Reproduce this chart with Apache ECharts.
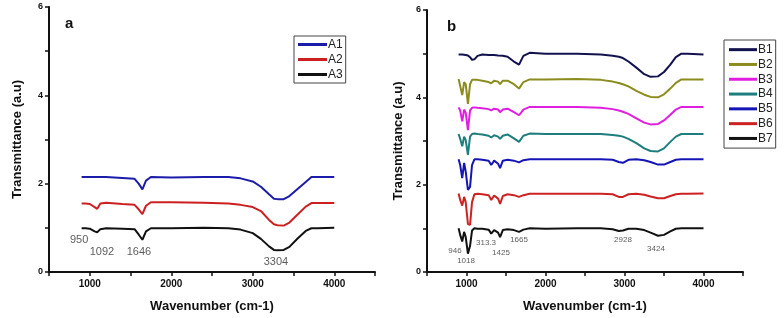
<!DOCTYPE html>
<html>
<head>
<meta charset="utf-8">
<script src="https://cdn.jsdelivr.net/npm/echarts@6/dist/echarts.min.js"></script>
<style>
  html, body { margin: 0; padding: 0; background: #fff; }
  #chart { width: 784px; height: 318px; }
</style>
</head>
<body>
<div id="chart"></div>
<script>
// panel a: wavenumbers and transmittance
const wnA = [900, 950, 1000, 1060, 1092, 1130, 1200, 1400, 1550, 1600, 1646, 1690, 1750, 2000, 2400, 2700, 2850, 3000, 3100, 3200, 3260, 3304, 3380, 3450, 3550, 3650, 3720, 3800, 4000];
const A1 = [2.15, 2.15, 2.15, 2.15, 2.15, 2.15, 2.15, 2.13, 2.11, 2.0, 1.87, 2.07, 2.15, 2.14, 2.15, 2.15, 2.12, 2.05, 1.93, 1.76, 1.66, 1.65, 1.65, 1.72, 1.88, 2.04, 2.15, 2.15, 2.15];
const A2 = [1.55, 1.55, 1.54, 1.47, 1.43, 1.55, 1.57, 1.54, 1.52, 1.42, 1.31, 1.5, 1.58, 1.58, 1.57, 1.55, 1.52, 1.47, 1.38, 1.18, 1.08, 1.06, 1.05, 1.12, 1.3, 1.48, 1.56, 1.56, 1.56];
const A3 = [0.99, 0.99, 0.98, 0.92, 0.9, 0.97, 0.99, 0.98, 0.97, 0.85, 0.73, 0.92, 0.99, 0.99, 1.0, 0.99, 0.96, 0.88, 0.75, 0.58, 0.5, 0.49, 0.5, 0.57, 0.76, 0.93, 0.99, 0.99, 1.0];

// panel b
const wnB = [900, 920, 946, 970, 990, 1018, 1045, 1070, 1100, 1140, 1200, 1280, 1313, 1350, 1400, 1425, 1460, 1520, 1600, 1665, 1720, 1800, 2000, 2400, 2700, 2850, 2928, 2980, 3050, 3150, 3250, 3330, 3424, 3500, 3580, 3650, 3720, 3800, 4000];
const B1 = [4.98, 4.98, 4.98, 4.97, 4.97, 4.96, 4.92, 4.86, 4.87, 4.95, 4.98, 4.97, 4.97, 4.97, 4.96, 4.96, 4.95, 4.93, 4.82, 4.75, 4.95, 5.02, 5.0, 5.0, 4.98, 4.95, 4.93, 4.9, 4.82, 4.68, 4.53, 4.47, 4.48, 4.58, 4.75, 4.92, 5.0, 5.0, 4.98];
const B2 = [4.42, 4.38, 4.05, 4.35, 4.3, 3.85, 4.3, 4.4, 4.4, 4.4, 4.38, 4.35, 4.32, 4.38, 4.36, 4.3, 4.38, 4.38, 4.3, 4.2, 4.35, 4.41, 4.41, 4.42, 4.4, 4.36, 4.33, 4.3, 4.25, 4.15, 4.06, 4.01, 4.0, 4.07, 4.2, 4.33, 4.41, 4.41, 4.41];
const B3 = [3.77, 3.7, 3.45, 3.72, 3.65, 3.25, 3.7, 3.76, 3.77, 3.76, 3.75, 3.73, 3.7, 3.74, 3.72, 3.66, 3.72, 3.74, 3.66, 3.59, 3.72, 3.78, 3.78, 3.78, 3.76, 3.73, 3.7, 3.67, 3.62, 3.52, 3.42, 3.38, 3.39, 3.47, 3.6, 3.72, 3.78, 3.78, 3.78];
const B4 = [3.16, 3.05, 2.88, 3.1, 3.02, 2.68, 3.1, 3.16, 3.17, 3.16, 3.15, 3.12, 3.08, 3.13, 3.1, 3.05, 3.12, 3.15, 3.06, 2.98, 3.12, 3.17, 3.16, 3.16, 3.16, 3.14, 3.12, 3.1, 3.05, 2.95, 2.83, 2.77, 2.76, 2.83, 2.98, 3.1, 3.16, 3.16, 3.16];
const B5 = [2.58, 2.45, 2.15, 2.5, 2.3, 1.88, 1.95, 2.45, 2.58, 2.58, 2.57, 2.55, 2.45, 2.55, 2.48, 2.38, 2.55, 2.57, 2.55, 2.51, 2.56, 2.58, 2.58, 2.58, 2.58, 2.57, 2.52, 2.5, 2.57, 2.58, 2.56, 2.52, 2.46, 2.46, 2.52, 2.57, 2.58, 2.58, 2.58];
const B6 = [1.8, 1.65, 1.52, 1.72, 1.6, 1.1, 1.08, 1.6, 1.78, 1.79, 1.78, 1.76, 1.65, 1.75, 1.68, 1.56, 1.74, 1.78, 1.76, 1.72, 1.76, 1.79, 1.79, 1.79, 1.79, 1.78, 1.72, 1.72, 1.78, 1.79, 1.77, 1.73, 1.69, 1.69, 1.74, 1.78, 1.79, 1.79, 1.8];
const B7 = [1.0, 0.85, 0.7, 0.92, 0.8, 0.42, 0.6, 0.95, 1.0, 0.99, 0.99, 0.97, 0.88, 0.96, 0.9, 0.8, 0.96, 0.98, 0.96, 0.92, 0.97, 1.0, 0.99, 1.0, 1.0, 0.98, 0.94, 0.95, 0.99, 0.99, 0.96, 0.9, 0.83, 0.85, 0.93, 0.99, 1.0, 1.0, 1.0];

// peak labels (text, anchor wavenumber, anchor transmittance)
const peaksA = ["950", "1092", "1646", "3304"];
const peaksAx = [870, 1150, 1604, 3285];
const peaksAy = [0.72, 0.45, 0.45, 0.23];
const peaksB = ["946", "1018", "313.3", "1425", "1665", "2928", "3424"];
const peaksBx = [854, 994, 1247, 1437, 1665, 2981, 3399];
const peaksBy = [0.49, 0.25, 0.67, 0.43, 0.74, 0.74, 0.54];

const namesA = ["A1", "A2", "A3"];
const namesB = ["B1", "B2", "B3", "B4", "B5", "B6", "B7"];
const colorsA = ["#1c1caa", "#cc2020", "#111111"];
const colorsB = ["#12124f", "#8c8c1e", "#e01ee0", "#1e7d7d", "#1515b5", "#cc2222", "#111111"];

const FONT = "Liberation Sans, Arial, sans-serif";

const chart = echarts.init(document.getElementById("chart"));

function xAxisOf(gridIndex) {
	return {
		gridIndex: gridIndex,
		type: "value",
		min: 500,
		max: 4500,
		interval: 500,
		name: "Wavenumber (cm-1)",
		nameLocation: "middle",
		nameGap: 28,
		nameTextStyle: { fontFamily: FONT, fontWeight: "bold", fontSize: 13, color: "#111" },
		axisLine: { lineStyle: { color: "#111", width: 2 } },
		axisTick: { inside: false, length: 4, lineStyle: { color: "#111", width: 1.5 } },
		axisLabel: {
			fontFamily: FONT, fontWeight: "bold", fontSize: 10, color: "#111", margin: 7,
			formatter: v => (v % 1000 === 0 ? String(v) : "")
		},
		splitLine: { show: false }
	};
}

function yAxisOf(gridIndex, gap) {
	return {
		gridIndex: gridIndex,
		type: "value",
		min: 0,
		max: 6,
		interval: 1,
		name: "Transmittance (a.u)",
		nameLocation: "middle",
		nameGap: gap,
		nameTextStyle: { fontFamily: FONT, fontWeight: "bold", fontSize: 13, color: "#111" },
		axisLine: { show: true, lineStyle: { color: "#111", width: 2 } },
		axisTick: { show: true, length: 4, lineStyle: { color: "#111", width: 1.5 } },
		axisLabel: {
			fontFamily: FONT, fontWeight: "bold", fontSize: 9, color: "#111", margin: 6,
			formatter: v => (v % 2 === 0 ? String(v) : "")
		},
		splitLine: { show: false }
	};
}

function lineSeries(name, wn, vals, color, idx) {
	return {
		name: name,
		type: "line",
		xAxisIndex: idx,
		yAxisIndex: idx,
		data: wn.map((w, i) => [w, vals[i]]),
		symbol: "none",
		lineStyle: { color: color, width: 2 },
		itemStyle: { color: color },
		silent: true,
		z: 3
	};
}

function peakSeries(texts, xs, ys, idx, size) {
	return {
		type: "scatter",
		xAxisIndex: idx,
		yAxisIndex: idx,
		symbolSize: 0,
		silent: true,
		data: texts.map((t, i) => ({ value: [xs[i], ys[i]], name: t })),
		label: {
			show: true,
			position: "inside",
			formatter: p => p.name,
			fontFamily: FONT,
			fontSize: size,
			color: "#333"
		}
	};
}

const seriesA = [A1, A2, A3];
const seriesB = [B1, B2, B3, B4, B5, B6, B7];

const option = {
	backgroundColor: "#fff",
	animation: false,
	grid: [
		{ left: 49, top: 7, width: 326, height: 266 },
		{ left: 427, top: 10, width: 316, height: 267 }
	],
	xAxis: [xAxisOf(0), xAxisOf(1)],
	yAxis: [yAxisOf(0, 25), yAxisOf(1, 22)],
	legend: [
		{
			data: namesA,
			orient: "vertical",
			left: 294,
			top: 36,
			width: 54,
			padding: [2, 3, 2, 4],
			itemGap: 2,
			itemWidth: 29,
			itemHeight: 3,
			icon: "rect",
			borderColor: "#444",
			borderWidth: 1,
			textStyle: { fontFamily: FONT, fontSize: 12, color: "#222", padding: [0, 0, 0, -4], lineHeight: 13 }
		},
		{
			data: namesB,
			orient: "vertical",
			left: 724,
			top: 40,
			padding: [3, 3, 3, 5],
			itemGap: 1.5,
			itemWidth: 28,
			itemHeight: 3,
			icon: "rect",
			borderColor: "#444",
			borderWidth: 1,
			textStyle: { fontFamily: FONT, fontSize: 12, color: "#222", padding: [0, 0, 0, -4], lineHeight: 13.3 }
		}
	],
	graphic: [
		{ type: "text", left: 65, top: 16, style: { text: "a", font: "bold 15px " + FONT, fill: "#111" } },
		{ type: "text", left: 447, top: 19, style: { text: "b", font: "bold 15px " + FONT, fill: "#111" } }
	],
	series: [
		...namesA.map((n, i) => lineSeries(n, wnA, seriesA[i], colorsA[i], 0)),
		...namesB.map((n, i) => lineSeries(n, wnB, seriesB[i], colorsB[i], 1)),
		peakSeries(peaksA, peaksAx, peaksAy, 0, 11),
		peakSeries(peaksB, peaksBx, peaksBy, 1, 8)
	]
};

chart.setOption(option);
</script>
</body>
</html>
